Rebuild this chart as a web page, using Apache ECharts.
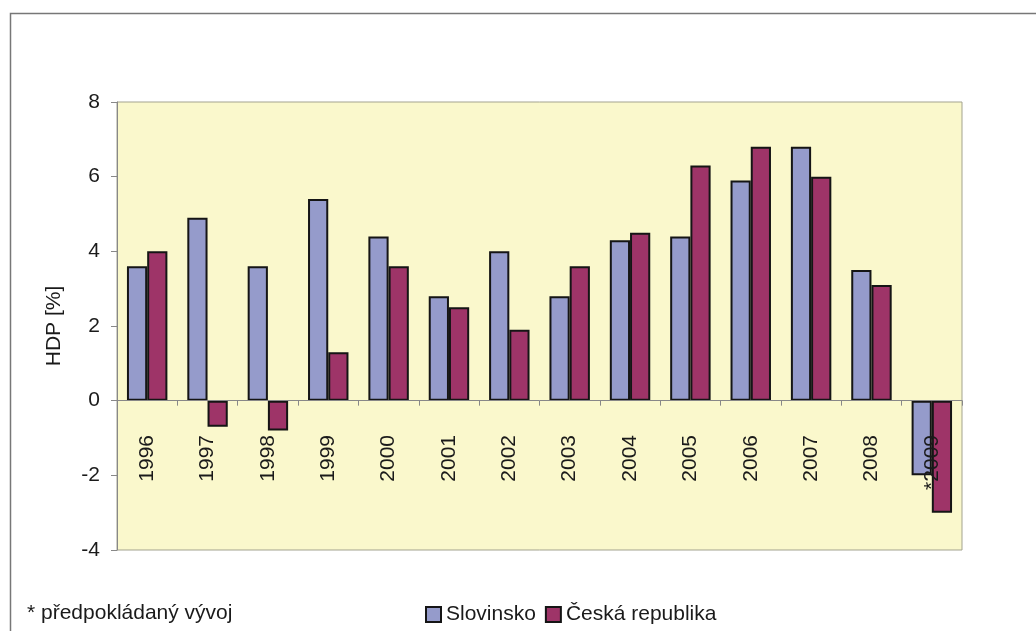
<!DOCTYPE html>
<html>
<head>
<meta charset="utf-8">
<script src="https://cdn.jsdelivr.net/npm/echarts@6/dist/echarts.min.js"></script>
<style>
  html, body { margin: 0; padding: 0; background: #fff; }
  #chart { width: 1036px; height: 631px; }
</style>
</head>
<body>
<div id="chart"></div>
<script>
// roky (2009 = predpoklad)
const years = ['1996', '1997', '1998', '1999', '2000', '2001', '2002', '2003', '2004', '2005', '2006', '2007', '2008', '*2009'];
const slovinsko = [3.6, 4.9, 3.6, 5.4, 4.4, 2.8, 4.0, 2.8, 4.3, 4.4, 5.9, 6.8, 3.5, -2.0];
const ceskaRepublika = [4.0, -0.7, -0.8, 1.3, 3.6, 2.5, 1.9, 3.6, 4.5, 6.3, 6.8, 6.0, 3.1, -3.0];
const yTicks = [-4, -2, 0, 2, 4, 6, 8];

const font = 'Liberation Sans, Arial, sans-serif';

const chart = echarts.init(document.getElementById('chart'));

const options = {
  animation: false,
  backgroundColor: '#fff',
  textStyle: { fontFamily: font },
  grid: {
    left: 117,
    right: 74,
    top: 102,
    bottom: 81,
    outerBoundsMode: 'none',
    containLabel: false,
    show: true,
    backgroundColor: '#FAF8CC',
    borderColor: '#a3a38f',
    borderWidth: 1
  },
  legend: {
    left: 425,
    top: 604,
    padding: 0,
    icon: 'rect',
    itemWidth: 15,
    itemHeight: 15,
    itemGap: 9,
    textStyle: { fontSize: 21, color: '#1a1a1a', fontFamily: font },
    data: ['Slovinsko', 'Česká republika']
  },
  xAxis: {
    type: 'category',
    data: years,
    z: 5, // popisky nad sloupci (*2009)
    axisLine: { onZero: true, lineStyle: { color: '#888', width: 1 } },
    axisTick: { show: true, length: 5, lineStyle: { color: '#888' } },
    axisLabel: {
      rotate: 90,
      margin: -115, // popisky sedi pod nulovou osou uvnitr grafu
      fontSize: 21,
      color: '#1a1a1a',
      fontFamily: font,
      interval: 0
    }
  },
  yAxis: {
    type: 'value',
    min: yTicks[0],
    max: yTicks[yTicks.length - 1],
    interval: 2,
    name: 'HDP [%]',
    nameLocation: 'middle',
    nameGap: 52,
    nameTextStyle: { fontSize: 21, color: '#1a1a1a', fontFamily: font, padding: [0, 0, 0, 0] },
    splitLine: { show: false },
    axisLine: { show: true, lineStyle: { color: '#888' } },
    axisTick: { show: true, length: 6, lineStyle: { color: '#888' } },
    axisLabel: { fontSize: 21, margin: 17, color: '#1a1a1a', fontFamily: font }
  },
  series: [
    {
      name: 'Slovinsko',
      type: 'bar',
      data: slovinsko,
      barGap: '0%',
      barCategoryGap: '33%',
      itemStyle: { color: '#959BCB', borderColor: '#151515', borderWidth: 2 }
    },
    {
      name: 'Česká republika',
      type: 'bar',
      data: ceskaRepublika,
      barGap: '0%',
      barCategoryGap: '33%',
      itemStyle: { color: '#9E3468', borderColor: '#151515', borderWidth: 2 }
    }
  ],
  graphic: [
    {
      type: 'rect',
      left: 8,
      top: 11,
      silent: true,
      shape: { width: 1100, height: 700 },
      style: { fill: 'none', stroke: '#777', lineWidth: 1.5 }
    },
    {
      type: 'text',
      left: 27,
      top: 603,
      silent: true,
      style: { text: '* předpokládaný vývoj', fontSize: 21, fill: '#1a1a1a', fontFamily: font }
    }
  ]
};

chart.setOption(options, true);
</script>
</body>
</html>
